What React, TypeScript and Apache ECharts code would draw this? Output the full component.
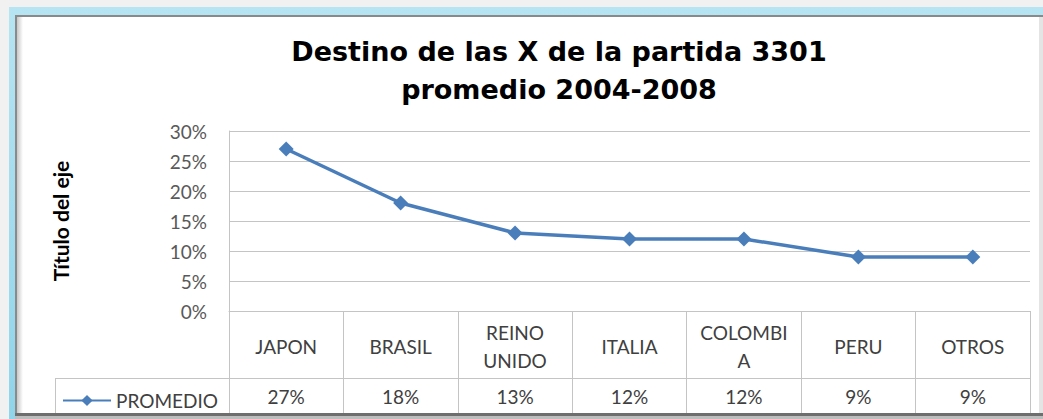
import React, { useEffect, useRef } from "react";
import * as echarts from "echarts";

const categories = ["JAPON", "BRASIL", "REINO\nUNIDO", "ITALIA", "COLOMBI\nA", "PERU", "OTROS"];
const values = [27, 18, 13, 12, 12, 9, 9];
const seriesName = "PROMEDIO";
const titleLines = ["Destino de las X de la partida 3301", "promedio 2004-2008"];
const yAxisName = "Título del eje";

const W = 1043;
const H = 419;
const PLOT_L = 229;
const PLOT_R = 1030;
const PLOT_T = 131;
const PLOT_B = 311;
const ROW_Y = 378;
const TABLE_B = 414;
const LEG_L = 55;

export default function App() {
  const ref = useRef<HTMLDivElement>(null);
  useEffect(() => {
    if (!ref.current) return;
    const chart = echarts.init(ref.current, null, { renderer: "svg" });
    const gridCol = "#c4c4c4";
    const textCol = "#404040";
    const font = "Lato, 'Open Sans', sans-serif";
    chart.setOption({
      animation: false,
      backgroundColor: "#ffffff",
      title: {
        text: titleLines.join("\n"),
        left: 554,
        top: 27,
        textAlign: "center",
        textStyle: {
          fontFamily: "'DejaVu Sans', 'Liberation Sans', sans-serif",
          fontWeight: "bold",
          fontSize: 27,
          lineHeight: 38,
          color: "#000000",
        },
      },
      legend: {
        left: 57,
        top: 386,
        itemWidth: 48,
        itemHeight: 14,
        data: [seriesName],
        textStyle: { fontFamily: font, fontSize: 19, color: textCol },
      },
      grid: {
        left: PLOT_L,
        right: W - PLOT_R,
        top: PLOT_T,
        bottom: H - PLOT_B,
        containLabel: false,
      },
      xAxis: [
        {
          type: "category",
          data: categories,
          boundaryGap: true,
          position: "bottom",
          axisLine: { show: true, lineStyle: { color: gridCol, width: 1 } },
          axisTick: { show: true, length: TABLE_B - PLOT_B, lineStyle: { color: gridCol, width: 1 } },
          axisLabel: {
            margin: 35,
            verticalAlign: "middle",
            fontFamily: font,
            fontSize: 19,
            lineHeight: 28,
            color: textCol,
            interval: 0,
          },
        },
        {
          type: "category",
          data: categories,
          boundaryGap: true,
          position: "bottom",
          axisLine: { show: false },
          axisTick: { show: false },
          axisLabel: {
            margin: 85,
            verticalAlign: "middle",
            fontFamily: font,
            fontSize: 19,
            color: textCol,
            interval: 0,
            formatter: (_v: string, i: number) => values[i] + "%",
          },
        },
      ],
      yAxis: {
        type: "value",
        min: 0,
        max: 30,
        interval: 5,
        name: yAxisName,
        nameLocation: "middle",
        nameGap: 158,
        nameRotate: 90,
        nameTextStyle: {
          fontFamily: font,
          fontWeight: "bold",
          fontSize: 21,
          color: "#000000",
        },
        axisLine: { show: true, lineStyle: { color: gridCol, width: 1 } },
        axisTick: { show: false },
        splitLine: { show: true, lineStyle: { color: gridCol, width: 1 } },
        axisLabel: {
          margin: 22,
          fontFamily: font,
          fontSize: 19,
          color: "#595959",
          formatter: (v: number) => v + "%",
        },
      },
      series: [
        {
          name: seriesName,
          type: "line",
          data: values,
          symbol: "diamond",
          symbolSize: 15,
          itemStyle: { color: "#4a7ebb" },
          lineStyle: { color: "#4a7ebb", width: 3.5 },
        },
      ],
      graphic: [
        {
          type: "group",
          silent: true,
          z: -10,
          children: [
            { type: "rect", shape: { x: 0, y: 0, width: W, height: H }, style: { fill: "#f1f1f1" } },
            {
              type: "rect",
              shape: { x: 9, y: 7, width: W, height: H },
              style: {
                fill: new echarts.graphic.LinearGradient(0, 0, 0, 1, [
                  { offset: 0, color: "#b6e4f2" },
                  { offset: 1, color: "#8fd4ea" },
                ]),
              },
            },
            { type: "rect", shape: { x: 15, y: 15, width: W, height: H }, style: { fill: "#8a8a8a" } },
            { type: "rect", shape: { x: 17, y: 17, width: 1022, height: 396 }, style: { fill: "#ffffff" } },
            {
              type: "rect",
              shape: { x: 17, y: 17, width: 6, height: 396 },
              style: {
                fill: new echarts.graphic.LinearGradient(0, 0, 1, 0, [
                  { offset: 0, color: "#c8c8c8" },
                  { offset: 1, color: "#ffffff" },
                ]),
              },
            },
            { type: "rect", shape: { x: 1039, y: 17, width: 4, height: 396 }, style: { fill: "#e4e4e4" } },
          ],
        },
        {
          type: "line",
          silent: true,
          z: 1,
          shape: { x1: LEG_L, y1: ROW_Y + 0.5, x2: PLOT_R, y2: ROW_Y + 0.5 },
          style: { stroke: gridCol, lineWidth: 1 },
        },
        {
          type: "line",
          silent: true,
          z: 1,
          shape: { x1: LEG_L + 0.5, y1: ROW_Y, x2: LEG_L + 0.5, y2: TABLE_B },
          style: { stroke: gridCol, lineWidth: 1 },
        },
        {
          type: "line",
          silent: true,
          z: 1,
          shape: { x1: PLOT_L + 0.5, y1: PLOT_B, x2: PLOT_L + 0.5, y2: TABLE_B },
          style: { stroke: gridCol, lineWidth: 1 },
        },
        {
          type: "rect",
          silent: true,
          z: 5,
          shape: { x: 15, y: 413, width: W, height: 3 },
          style: { fill: "#6e6e6e" },
        },
        {
          type: "rect",
          silent: true,
          z: 5,
          shape: { x: 15, y: 416, width: W, height: 3 },
          style: { fill: "#bdbdbd" },
        },
      ],
    });
    return () => chart.dispose();
  }, []);
  return (
    <div
      ref={ref}
      style={{ position: "absolute", left: 0, top: 0, width: W, height: H }}
    />
  );
}
